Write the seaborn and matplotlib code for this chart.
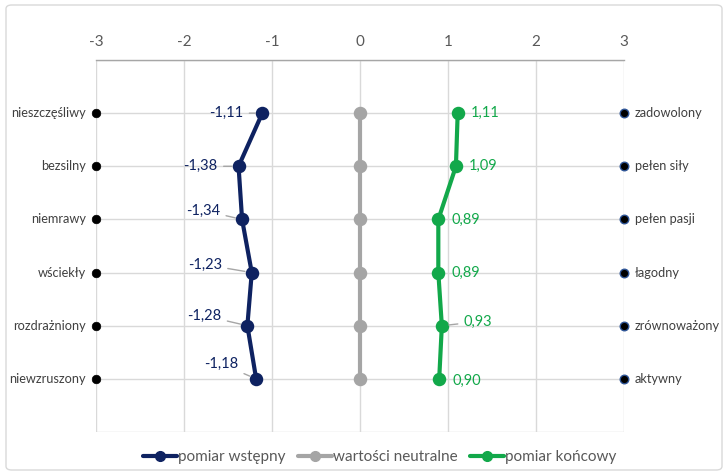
import matplotlib
matplotlib.use("Agg")
import matplotlib.pyplot as plt
from matplotlib.patches import FancyBboxPatch
from matplotlib.lines import Line2D
import seaborn as sns
import pandas as pd

sns.set_theme(style="white")
plt.rcParams["font.family"] = ["Lato", "DejaVu Sans"]

# Semantic differential: negative adjective pairs (left) vs positive (right)
left_words = ["nieszczęśliwy", "bezsilny", "niemrawy", "wściekły", "rozdrażniony", "niewzruszony"]
right_words = ["zadowolony", "pełen siły", "pełen pasji", "łagodny", "zrównoważony", "aktywny"]
pre_values = [-1.11, -1.38, -1.34, -1.23, -1.28, -1.18]
neutral_values = [0, 0, 0, 0, 0, 0]
post_values = [1.11, 1.09, 0.89, 0.89, 0.93, 0.90]
x_ticks = [-3, -2, -1, 0, 1, 2, 3]
series_names = ["pomiar wstępny", "wartości neutralne", "pomiar końcowy"]

NAVY = "#0E2261"
GRAY = "#A5A5A5"
GREEN = "#12A84A"
TXT = "#404040"

rows = list(range(1, len(left_words) + 1))
df = pd.DataFrame({
    "row": rows * 3,
    "value": pre_values + neutral_values + post_values,
    "series": [series_names[0]] * 6 + [series_names[1]] * 6 + [series_names[2]] * 6,
})

fig = plt.figure(figsize=(7.25, 4.74), dpi=100)
ax = fig.add_axes([96 / 725, 1 - 432 / 474, 528 / 725, 372 / 474])

palette = {series_names[0]: NAVY, series_names[1]: GRAY, series_names[2]: GREEN}
sns.lineplot(data=df, x="value", y="row", hue="series", palette=palette,
             sort=False, estimator=None, orient="y", marker="o", markersize=8.5,
             markeredgewidth=1.2, linewidth=3, legend=False, ax=ax, zorder=3)
for ln, name in zip(ax.get_lines(), series_names):
    ln.set_markeredgecolor(palette[name])

# end-point anchors for the adjective scale
sns.scatterplot(x=[-3] * 6, y=rows, color="black", s=38, edgecolor="black",
                linewidth=0.5, ax=ax, zorder=4, clip_on=False)
sns.scatterplot(x=[3] * 6, y=rows, color="black", s=38, edgecolor="#2F5597",
                linewidth=1.0, ax=ax, zorder=4, clip_on=False)

ax.set_xlim(-3, 3)
ax.set_ylim(7, 0)
ax.set_xticks(x_ticks)
ax.set_xticklabels([str(t) for t in x_ticks])
ax.set_yticks(range(0, 8))
ax.set_yticklabels([])
ax.xaxis.tick_top()
ax.tick_params(axis="x", length=0, pad=8, labelsize=11, labelcolor="#595959")
ax.tick_params(axis="y", length=0)
ax.grid(True, color="#D9D9D9", linewidth=1)
ax.set_axisbelow(True)
ax.set_xlabel("")
ax.set_ylabel("")
for side in ["left", "right", "bottom"]:
    ax.spines[side].set_visible(False)
ax.spines["top"].set_color("#A6A6A6")
ax.spines["top"].set_linewidth(1)

for r, w in zip(rows, left_words):
    ax.annotate(w, xy=(-3, r), xytext=(-10, 0), textcoords="offset pixels",
                ha="right", va="center", fontsize=9.2, color=TXT)
for r, w in zip(rows, right_words):
    ax.annotate(w, xy=(3, r), xytext=(11, 0), textcoords="offset pixels",
                ha="left", va="center", fontsize=9.2, color=TXT)

def fmt(v):
    return f"{v:.2f}".replace(".", ",")

pre_offsets = [(-19, 0), (-21, 0), (-22, 9), (-30, 8), (-26, 10), (-18, 15)]
post_offsets = [(13, 0), (13, 0), (13, 0), (13, 0), (22, 4), (13, -2)]
leader = dict(arrowstyle="-", color="#A6A6A6", lw=1, shrinkA=2, shrinkB=5)

for r, v, off in zip(rows, pre_values, pre_offsets):
    ax.annotate(fmt(v), xy=(v, r), xytext=off, textcoords="offset pixels",
                ha="right", va="center", fontsize=10.5, color=NAVY,
                arrowprops=leader, zorder=5)
for r, v, off in zip(rows, post_values, post_offsets):
    ax.annotate(fmt(v), xy=(v, r), xytext=off, textcoords="offset pixels",
                ha="left", va="center", fontsize=10.5, color=GREEN,
                arrowprops=leader if off[0] > 15 else None, zorder=5)

handles = [Line2D([], [], color=palette[n], lw=3, marker="o", markersize=7)
           for n in series_names]
fig.legend(handles, series_names, loc="center", bbox_to_anchor=(380 / 725, 1 - 457 / 474),
           ncol=3, frameon=False, fontsize=11, labelcolor="#595959",
           handlelength=2.2, handletextpad=0.1, columnspacing=0.8)

border = FancyBboxPatch((6 / 725, 4 / 474), 716 / 725, 465 / 474,
                        boxstyle="round,pad=0,rounding_size=0.008",
                        transform=fig.transFigure, facecolor="none",
                        edgecolor="#D9D9D9", linewidth=1)
fig.patches.append(border)

fig.savefig("out.png", dpi=100)
